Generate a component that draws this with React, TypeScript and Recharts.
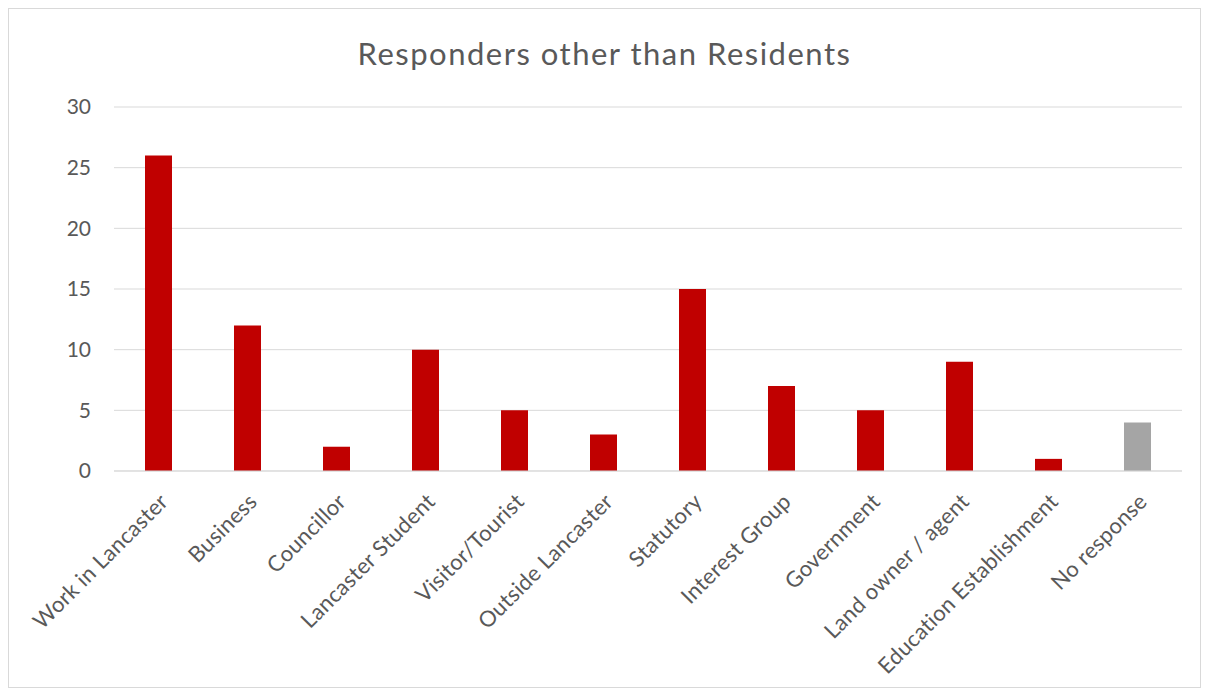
import { BarChart, Bar, XAxis, YAxis, CartesianGrid, Cell } from 'recharts'

const categories = [
  'Work in Lancaster',
  'Business',
  'Councillor',
  'Lancaster Student',
  'Visitor/Tourist',
  'Outside Lancaster',
  'Statutory',
  'Interest Group',
  'Government',
  'Land owner / agent',
  'Education Establishment',
  'No response',
]

const counts = [26, 12, 2, 10, 5, 3, 15, 7, 5, 9, 1, 4]

const yTicks = [0, 5, 10, 15, 20, 25, 30]

const TEXT = '#595959'
const FONT = 'Lato, "Open Sans", sans-serif'

const data = categories.map((name, i) => ({ name, value: counts[i] }))

function AngledTick(props: any) {
  const { x, y, payload } = props
  const tx = x + 11
  const ty = y + 30
  return (
    <text
      x={tx}
      y={ty}
      transform={`rotate(-45, ${tx}, ${ty})`}
      textAnchor="end"
      fill={TEXT}
      fontSize={22}
      letterSpacing={0.3}
      fontFamily={FONT}
    >
      {payload.value}
    </text>
  )
}

export default function App() {
  return (
    <div
      style={{
        position: 'relative',
        width: 1191,
        height: 678,
        border: '1px solid #d9d9d9',
        background: '#fff',
      }}
    >
      <div
        style={{
          position: 'absolute',
          left: 0,
          right: 0,
          top: 25,
          textAlign: 'center',
          fontFamily: FONT,
          fontSize: 31,
          letterSpacing: 1.5,
          color: TEXT,
        }}
      >
        Responders other than Residents
      </div>
      <BarChart
        width={1191}
        height={678}
        data={data}
        margin={{ top: 98, right: 18, bottom: 0, left: 0 }}
      >
        <CartesianGrid vertical={false} stroke="#d9d9d9" />
        <XAxis
          dataKey="name"
          interval={0}
          height={216}
          tickLine={false}
          tickSize={0}
          axisLine={{ stroke: '#d9d9d9' }}
          tick={<AngledTick />}
        />
        <YAxis
          width={105}
          domain={[0, 30]}
          ticks={yTicks}
          axisLine={false}
          tickLine={false}
          tickSize={0}
          tickMargin={23}
          tick={{ fontSize: 21, fill: TEXT, fontFamily: FONT }}
        />
        <Bar dataKey="value" barSize={27} isAnimationActive={false}>
          {data.map((d, i) => (
            <Cell key={i} fill={i === data.length - 1 ? '#a5a5a5' : '#c00000'} />
          ))}
        </Bar>
      </BarChart>
    </div>
  )
}
